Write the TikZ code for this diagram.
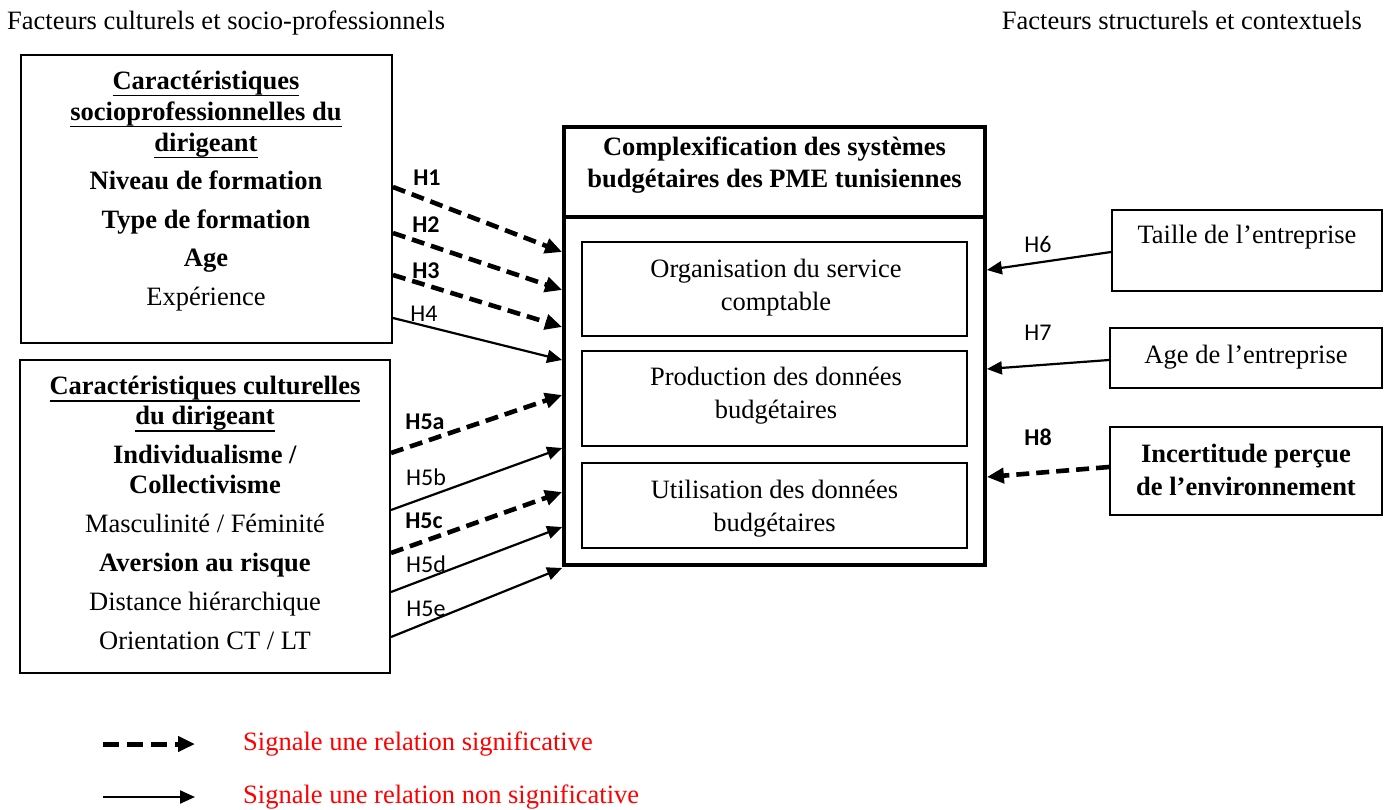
\documentclass[tikz,border=0pt]{standalone}
\usepackage{fontspec}
\setmainfont{Liberation Serif}
\newfontfamily\calfont{Carlito}
\usetikzlibrary{arrows.meta}
\newsavebox\ulbox
\newcommand\myul[1]{\sbox\ulbox{#1}\rlap{\rule[-7pt]{\wd\ulbox}{1.6pt}}\usebox\ulbox}
\begin{document}
\begin{tikzpicture}[x=1pt,y=-1pt,
  box/.style={draw, line width=2pt, inner sep=0pt},
  txt/.style={font=\fontsize{26.5}{31}\selectfont, align=center, inner sep=0pt},
  hl/.style={font=\calfont\fontsize{24}{28}\selectfont, inner sep=0pt},
  hlb/.style={font=\calfont\bfseries\fontsize{24}{28}\selectfont, inner sep=0pt},
  sig/.style={line width=4.6pt, dash pattern=on 13pt off 7pt, -{Triangle[length=17pt,width=15pt]}},
  nsig/.style={line width=2.2pt, -{Triangle[length=15pt,width=13pt]}}]
\useasboundingbox (0,0) rectangle (1389,809);
% top labels
\node[txt, anchor=base west] (ltop) at (7,29) {Facteurs culturels et socio-professionnels};
\node[txt, anchor=base east] (rtop) at (1362,29) {Facteurs structurels et contextuels};
% left box 1
\node[box, minimum width=371pt, minimum height=288pt] (b1) at (206.5,199) {};
\node[txt] (b1t) at (206,191) {\textbf{\myul{Caractéristiques}}\\
\textbf{\myul{socioprofessionnelles du}}\\
\textbf{\myul{dirigeant}}\\[7.5pt]
\textbf{Niveau de formation}\\[7.5pt]
\textbf{Type de formation}\\[7.5pt]
\textbf{Age}\\[7.5pt]
Expérience};
% left box 2
\node[box, minimum width=370pt, minimum height=313pt] (b2) at (205,516.5) {};
\node[txt, font=\fontsize{26.5}{30}\selectfont] (b2t) at (205,513) {\textbf{\myul{Caractéristiques culturelles}}\\
\textbf{\myul{du dirigeant}}\\[9pt]
\textbf{Individualisme /}\\
\textbf{Collectivisme}\\[9pt]
Masculinité / Féminité\\[9pt]
\textbf{Aversion au risque}\\[9pt]
Distance hiérarchique\\[9pt]
Orientation CT / LT};
% central box
\node[box, line width=3.8pt, minimum width=421pt, minimum height=438pt] (cbox) at (774.5,346) {};
\draw[line width=3.8pt] (cbox.west |- 0,217) -- (cbox.east |- 0,217);
\node[txt, font=\bfseries\fontsize{26.5}{32}\selectfont] (ctitle) at (774.5,165) {Complexification des systèmes\\budgétaires des PME tunisiennes};
\node[box, minimum width=385pt, minimum height=94pt] (ia) at (774.5,289) {};
\node[txt, font=\fontsize{26.5}{33}\selectfont] (iat) at (776,288) {Organisation du service\\comptable};
\node[box, minimum width=385pt, minimum height=95pt] (ib) at (774.5,398.5) {};
\node[txt, font=\fontsize{26.5}{33}\selectfont] (ibt) at (776,396) {Production des données\\budgétaires};
\node[box, minimum width=385pt, minimum height=85pt] (ic) at (774.5,505.5) {};
\node[txt, font=\fontsize{26.5}{33}\selectfont] (ict) at (774.5,508.5) {Utilisation des données\\budgétaires};
% right boxes
\node[box, minimum width=270pt, minimum height=81pt] (taille) at (1247,250.5) {};
\node[txt, anchor=base] (taillet) at (1247,243) {Taille de l’entreprise};
\node[box, minimum width=272pt, minimum height=60pt] (agee) at (1246,358) {};
\node[txt, anchor=base] (ageet) at (1246,363) {Age de l’entreprise};
\node[box, minimum width=272pt, minimum height=88pt] (incert) at (1246,471) {};
\node[txt, font=\bfseries\fontsize{26.5}{33}\selectfont] (incertt) at (1246,469.5) {Incertitude perçue\\de l’environnement};
% left arrows
\draw[sig] (b1.east |- 0,187) -- (cbox.west |- 0,252);
\draw[sig] (b1.east |- 0,233) -- (cbox.west |- 0,290);
\draw[sig] (b1.east |- 0,275) -- (cbox.west |- 0,327);
\draw[nsig] (b1.east |- 0,318) -- (cbox.west |- 0,360);
\draw[sig] (b2.east |- 0,453) -- (cbox.west |- 0,395);
\draw[nsig] (b2.east |- 0,510) -- (cbox.west |- 0,448);
\draw[sig] (b2.east |- 0,553) -- (cbox.west |- 0,492);
\draw[nsig] (b2.east |- 0,592) -- (cbox.west |- 0,527);
\draw[nsig] (b2.east |- 0,637) -- (cbox.west |- 0,568);
% right arrows
\draw[nsig] (taille.west |- 0,252) -- (cbox.east |- 0,270);
\draw[nsig] (agee.west |- 0,360) -- (cbox.east |- 0,369);
\draw[sig] (incert.west |- 0,467) -- (cbox.east |- 0,477);
% hypothesis labels
\node[hlb] (h1) at (427,178) {H1};
\node[hlb] (h2) at (426,225) {H2};
\node[hlb] (h3) at (426,271) {H3};
\node[hl] (h4) at (424,314) {H4};
\node[hlb] (h5a) at (425,422) {H5a};
\node[hl] (h5b) at (426,477) {H5b};
\node[hlb] (h5c) at (424,521) {H5c};
\node[hl] (h5d) at (426,564) {H5d};
\node[hl] (h5e) at (426,609) {H5e};
\node[hl] (h6) at (1038,244) {H6};
\node[hl] (h7) at (1038,333) {H7};
\node[hlb] (h8) at (1038,437.5) {H8};
% legend
\coordinate (l1a) at (103,744);
\coordinate (l1b) at (195,744);
\coordinate (l2a) at (103,797);
\coordinate (l2b) at (195,797);
\draw[sig, line width=5pt, dash pattern=on 16pt off 8pt] (l1a) -- (l1b);
\draw[nsig] (l2a) -- (l2b);
\node[txt, anchor=base west, text=red] (leg1) at (243,750) {Signale une relation significative};
\node[txt, anchor=base west, text=red] (leg2) at (243,803) {Signale une relation non significative};
\end{tikzpicture}
\end{document}
